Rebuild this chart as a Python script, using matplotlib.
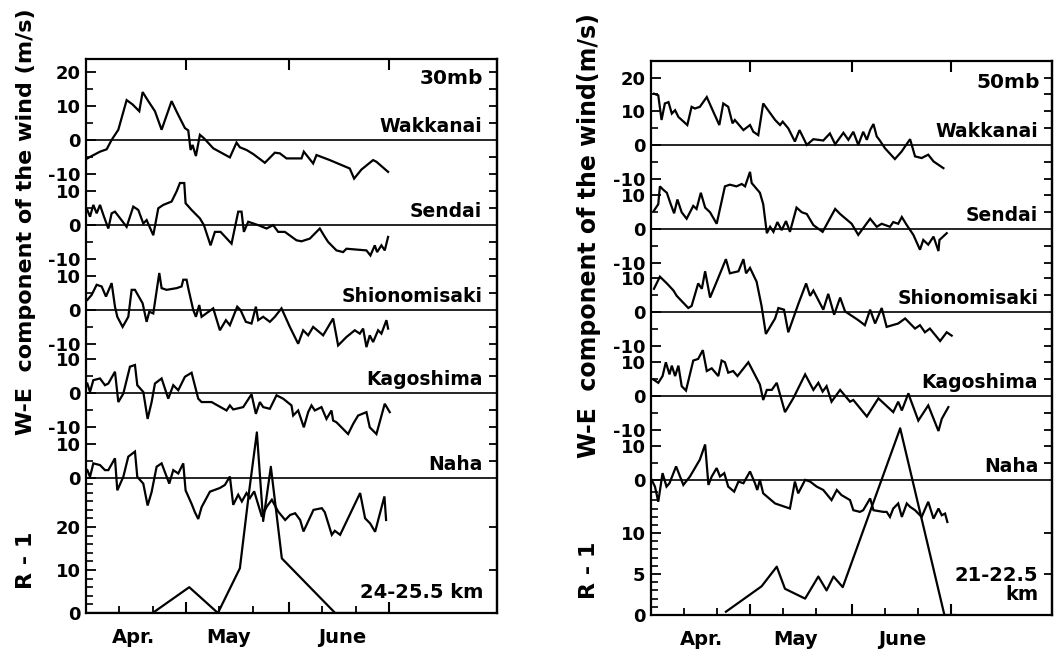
import matplotlib
matplotlib.use("Agg")
import matplotlib.pyplot as plt
import numpy as np

plt.rcParams['font.family'] = ['DejaVu Sans']
plt.rcParams['font.weight'] = 'bold'

# ---------------- DATA ----------------
stations = ["Wakkanai", "Sendai", "Shionomisaki", "Kagoshima", "Naha"]
month_labels = ["Apr.", "May", "June"]
month_label_day_30 = [14.4, 42.9, 76.9]
month_label_day_50 = [15.4, 43.8, 76.1]
wind_tick_labels = [["20", "10", "0", "-10"], ["10", "0", "-10"], ["10", "0", "-10"],
                    ["10", "0", "-10"], ["10", "0"]]
wind_tick_values = [[20, 10, 0, -10], [10, 0, -10], [10, 0, -10], [10, 0, -10], [10, 0]]
r_tick_values_30 = [0, 10, 20]
r_tick_values_50 = [0, 5, 10]

# --- 30 mb (days counted from 1 April) ---
wak30_day = [0.4, 1.7, 4.2, 6.2, 7.7, 9.7, 12.2, 14, 16, 17, 18.7, 20.7, 22.7, 25.7, 27.4, 29.7,
             30.7, 31.4, 32, 33, 34.2, 35.4, 38.2, 43.2, 45.2, 46.2, 48.2, 50.2, 53.7, 56.7,
             58.2, 60.2, 64.7, 65.4, 68.2, 69.2, 73.2, 79.2, 80.5, 82.7, 86.2, 87.2, 90.7]
wak30_u = [-5.5, -4.8, -3.5, -2.8, 0, 3, 11.8, 10.5, 8.5, 14.2, 11.5, 8.5, 3, 11.5, 8, 3.5,
           2.8, -3, -1.5, -4.8, 1.5, 0.5, -2.5, -5.2, -0.8, -2.2, -3, -4.2, -6.8, -3.8,
           -4, -5.5, -5.5, -3.5, -7, -4.5, -6, -8.5, -11.5, -8.8, -6, -6.5, -9.5]

sen30_day = [0.4, 1.2, 2.2, 3.2, 4.2, 5.4, 6.7, 7.7, 8.7, 12.2, 14.2, 15.7, 17.2, 18.2, 20.2,
             21.7, 23.2, 25.7, 27.2, 28.2, 29.5, 29.9, 31.7, 34.2, 35.4, 37.4, 38.7, 40.4,
             43.7, 45.7, 46.7, 47.4, 48.7, 51.7, 54.2, 56.2, 57.7, 59.7, 63.2, 64.7, 67.2,
             70.2, 71.4, 72.7, 75.2, 77.2, 78.2, 84.2, 85.4, 86.7, 87.4, 88.7, 89.7, 90.7]
sen30_u = [4.5, 2.5, 6, 3.5, 6, 2.5, -1, 3.5, 4, -0.5, 5.5, 4.5, 0.5, 1.5, -3,
           5, 6, 7, 10, 12.5, 12.5, 6.5, 4.5, 2, 0, -6, -2, -2,
           -5.5, 4, 4, -2, 1, 0, -1, 0, -2, -2, -4.5, -4.8, -4,
           -1, -3, -5, -7.5, -8, -7, -7.5, -9, -6, -8, -6, -7.5, -3.5]

shi30_day = [0.4, 1.7, 3.2, 4.7, 6, 7.7, 8.7, 9.4, 11, 12.7, 13.7, 14.7, 17, 18.2, 19, 20.2,
             22, 22.7, 24.2, 27.2, 28.7, 29.2, 30.2, 30.7, 32.2, 33, 34, 34.7, 38.2, 40.2,
             42, 43.2, 45.4, 46.4, 48, 49.7, 51, 51.7, 53.2, 55.2, 56.7, 58.7, 61.2, 63.7,
             65.2, 66.7, 68.2, 71.2, 74.2, 75.7, 78.2, 80.7, 82.2, 83.2, 84.2, 85.2, 86.2,
             87.7, 88.7, 90.2, 90.7]
shi30_u = [3, 4.5, 7.5, 7, 4, 8, 1, -2, -5, -2, 6, 6, 2, -3.5, -0.5, -1,
           11, 6.5, 6, 6.5, 7, 9, 9, 6.5, 0, -2, 1.5, -2, 0.5, -6,
           -3, -4.5, 1, 0, -3.5, -4, 1, -3, -2, -3.5, -2, 0.5, -5, -10,
           -6, -7.5, -5, -7.5, -2.5, -10.5, -8, -6, -7, -5.5, -11, -7.5, -9.5,
           -6, -7, -3, -5.5]

kag30_day = [0.4, 1.2, 2.2, 4.2, 5.7, 6.7, 8.7, 9.7, 11.2, 13.2, 14.7, 15.4, 17.2, 18.5, 19.7,
             20.7, 22.7, 24.7, 26.2, 27.7, 29.7, 31.7, 33.7, 34.7, 37.7, 42.2, 43.2, 44.2,
             47.2, 49.7, 51, 52.2, 53.2, 55.2, 57.2, 59.2, 61.7, 62.2, 63.7, 65.4, 66.7,
             67.7, 68.7, 70.7, 72.2, 73.7, 74.2, 75.2, 78.7, 80.2, 81.7, 84.2, 85.2, 87.2,
             89.7, 91.2]
kag30_u = [2.8, 0.3, 3.8, 4.3, 2.3, 2.8, 6.3, -2.7, -0.2, 7.8, 8.3, 2.3, 0.3, -7.7, -2.7,
           2.8, 4.3, -1.7, 2.3, 0.8, 4.8, 6, -1.7, -2.7, -2.7, -5.2, -3.7, -4.9,
           -4.2, -0.4, -6.2, -2.7, -4.2, -4.7, -0.7, -1.7, -3.7, -6.7, -5.2, -10.2, -5.7,
           -3.7, -5.2, -4.2, -7.7, -5.2, -8.2, -8.7, -12.2, -9.2, -6.7, -5.7, -10.2, -12.2,
           -3.2, -5.7]

nah30_day = [0.4, 1.2, 2.2, 4.2, 5.7, 6.7, 8.7, 9.4, 11.2, 12.7, 14.7, 15.4, 17.2, 18.5, 19.7,
             21.2, 22.7, 25, 26.2, 27.7, 29.2, 29.9, 31.7, 32.7, 33.7, 34.7, 37.2, 40.2,
             41.7, 43.2, 44.2, 45.7, 46.8, 48.2, 49.2, 50.5, 52.8, 54.3, 55.8, 57.7, 59.8,
             61.3, 62.8, 64.3, 65.3, 68.3, 70.8, 71.7, 73.8, 74.7, 76.3, 82.3, 83.8, 85.3,
             86.8, 89.6, 90.1]
nah30_u = [2.3, 0.3, 4.3, 3.8, 2.3, 2.3, 5.8, -3.7, 0.3, 6.3, 7.8, 0.3, -1.7, -8.2, -4.2,
           3.3, 4.3, -1.7, 2.3, 1.3, 4.3, -3.7, -7.7, -10.2, -12.2, -8.7, -4.1, -3,
           -2.1, 0.4, -8, -5, -7, -4.5, -6, -4, -11.5, -8.5, -6.5, -10, -12.5,
           -11, -10.5, -12.5, -15.9, -9.5, -9, -10.2, -16.9, -15.7, -16.9, -4.5, -12, -13.5,
           -16, -5.5, -12.5]

r30_day = [0, 20, 31, 39.6, 46.2, 49, 51.3, 53.2, 55.5, 58.8, 74.8, 90.3]
r30_val = [0, 0, 6, 0, 10.4, 28.4, 42, 21.4, 34, 12.7, 0, 0]

# --- 50 mb ---
wak50_day = [0.9, 2.2, 3.2, 4.2, 5.3, 6.3, 7.3, 8.3, 11, 12.3, 13.3, 14.8, 16.9, 18.9, 20.7,
             21.9, 23.4, 24.7, 25.4, 28, 30, 31, 32.5, 34, 35.1, 37.6, 39.1, 39.9, 41.6,
             43.6, 45, 47.2, 49.2, 52.2, 54.2, 55.8, 58.3, 59.8, 61.3, 62.8, 64.3, 65.4,
             66.4, 67.4, 68.4, 69.2, 70.9, 73.9, 75.9, 78.5, 80, 82, 84, 85.6, 88.6]
wak50_u = [15.2, 14.7, 7.4, 12.3, 12.7, 9.3, 10.3, 8.3, 5.9, 11.3, 10.8, 11.3, 14.2, 9.8, 5.9,
           12.3, 11.3, 6.4, 7.4, 4.4, 5.9, 3.9, 2.9, 12.3, 10.8, 7.4, 5.9, 6.9, 4.9,
           1, 4.4, 0, 1.7, 1.3, 3.4, 0.2, 3.6, 1.5, 3.9, 0, 3.9, 1.5,
           4.4, 6.2, 2.5, 1.5, -1, -4.2, -2, 1.7, -3.4, -3.9, -2.9, -4.9, -6.9]

sen50_day = [0.9, 2.2, 2.7, 3.7, 4.8, 5.8, 7, 8, 9.3, 10.8, 12.8, 13.8, 15.1, 16.4, 17.9,
             19.9, 22.4, 23.9, 25.9, 27.5, 28.5, 30, 30.5, 33, 34, 35.1, 36.1, 37.1, 38.3,
             39.6, 40.9, 42.1, 44.1, 45.7, 47.2, 49.2, 52, 55.8, 57.3, 60.8, 62.8, 66.4,
             68.4, 69.9, 72.4, 73.4, 74.9, 76, 77.5, 79.5, 81.5, 82.5, 84, 85.6, 87.1,
             87.4, 89.6]
sen50_u = [5.5, 7.4, 12.7, 11.7, 10.8, 7.9, 4.7, 8.8, 5, 3.1, 6.9, 6, 10.8, 6.4, 5,
           1.6, 12.7, 13.2, 12.7, 13.4, 12.7, 17, 13.7, 10.8, 7.4, -1.2, 0.7, -0.8, 2.1,
           -0.3, 2.4, -0.8, 6.4, 5, 4.5, 1.2, -0.8, 6, 4.5, 1.6, -1.7, 3.1,
           0.7, 1.6, 0.7, 2.1, 1.6, 3.6, 1.2, -1.7, -6.1, -3.2, -4.6, -2.2, -6.5,
           -3.2, -1.2]

shi50_day = [0.9, 2.7, 4.8, 6.8, 7.8, 11.3, 12.3, 14.3, 15.4, 16.4, 17.9, 19.9, 22.7, 23.9,
             26.5, 28, 28.8, 30, 32, 33.5, 34.8, 37.6, 38.6, 40.3, 41.6, 44.6, 47, 48.2,
             49.2, 52.2, 53.7, 55.5, 57.3, 58.8, 62.8, 64.8, 66.4, 67.9, 69.9, 71.4, 74.9,
             77, 80, 81.5, 83, 84.5, 87.6, 89.6, 91.1]
shi50_u = [6.9, 10.5, 8.5, 6.4, 4.8, 1.2, 1.8, 8.5, 6.9, 12.1, 4.3, 9, 15.7, 11.5,
           12.1, 15.7, 11.5, 13.1, 9, 1.8, -6.5, -1.9, 1.2, 0.7, -6, 2.3, 8.5, 4.8,
           6.4, 0.7, 5.4, -0.8, 4.3, 0.2, -2.4, -3.9, 0.7, -3.4, 1.2, -4.4, -3.4,
           -1.9, -4.9, -3.9, -6, -4.9, -8.6, -6, -7]

kag50_day = [0.7, 2.2, 3.5, 4.5, 5.6, 6.3, 7.3, 8.3, 9.3, 10.6, 12.8, 14.3, 15.7, 16.9, 18.4,
             20.4, 21.4, 22.4, 23.4, 24.9, 26.2, 29.5, 33, 34, 35.1, 36.6, 38.1, 40.6,
             43.1, 46.7, 49.2, 50.7, 52, 53.2, 54.7, 57.3, 60.3, 61.3, 65.4, 68.9, 73.4,
             74.9, 76, 78, 78.5, 81, 84, 87.1, 88.1, 90.1]
kag50_u = [4.9, 3.9, 5.9, 10, 6.4, 9, 5.9, 9, 2.9, 1.6, 10.5, 11, 13.6, 7.4, 8.2,
           5.9, 10.5, 10, 6.9, 7.4, 5.9, 10, 3.4, -1.2, 1.8, 1.8, 3.9, -4.8,
           -0.7, 6.4, 1.8, 3.9, 1.3, 2.9, -1.7, 1.8, -1.7, -1.2, -6.1, -0.7, -4.8,
           -1.7, -4.3, 0.8, -0.7, -7.3, -2.8, -10.4, -6.8, -3.3]

nah50_day = [0.2, 1.2, 2.2, 3.5, 4.7, 5.6, 7.6, 9.8, 11.8, 14.8, 16.4, 17.4, 18.4, 19.9, 20.9,
             22.2, 23.4, 25.2, 26.5, 28, 30, 31.5, 32.2, 33, 34, 37.6, 42.1, 43.6, 44.6,
             46.7, 48.2, 50.2, 52.2, 54.7, 56.3, 57.7, 60.3, 61.3, 63.3, 64.3, 66.4, 67.4,
             70.4, 71.4, 72.4, 73.4, 74.9, 76, 77.5, 78.5, 80, 82, 84, 85.6, 87.1, 88.1,
             89.1, 89.8]
nah50_u = [0, -2, -6.5, 2, -2, -1, 4, -1.5, 1, 6, 10.5, -1.5, 1, 3.5, 1,
           2, -2, -3.5, -0.5, -1, 2.5, -1, -3, 0, -4, -7, -8.5, -0.5, -4,
           0, -0.5, -2, -3, -6, -3, -4.5, -6, -9, -9.5, -9, -5.5, -9,
           -9.5, -9.5, -11, -8.5, -7, -11, -7, -8, -9, -11, -6.5, -11.5, -8.5, -10.5,
           -10, -12.5]

r50_day = [22.7, 33.5, 38.1, 40.6, 46.7, 50.7, 53.2, 55.3, 58.1, 75.5, 88.9, 92]
r50_val = [0.4, 3.5, 5.9, 3.2, 2, 4.7, 3, 4.7, 3.4, 22.8, 0, 0]

# ---------------- LAYOUT ----------------
W, H = 1055, 654
fig = plt.figure(figsize=(W / 100, H / 100), dpi=100)

panels = [
    dict(rect=[86 / W, 1 - 613 / H, 411 / W, 554 / H], xmax=123.4, ymax=164.4,
         offsets=[140.4, 115.1, 89.9, 65.3, 40.1], rscale=1.276,
         series=[(wak30_day, wak30_u), (sen30_day, sen30_u), (shi30_day, shi30_u),
                 (kag30_day, kag30_u), (nah30_day, nah30_u)],
         r=(r30_day, r30_val), rticks=r_tick_values_30, rminor=np.arange(0, 31, 2),
         level="30mb", level_xy=(119.2, 158.6), lab_x=119.0,
         km="24-25.5 km", km_xy=(119.2, 6.2), mlab=month_label_day_30,
         ylabel="W-E  component of the wind (m/s)", ylab_x=26, ylab_y=222, ylab_fs=16,
         r_y=560, r_x=26),
    dict(rect=[651 / W, 1 - 615 / H, 401 / W, 554 / H], xmax=121.5, ymax=164.4,
         offsets=[139.5, 114.5, 89.9, 65.0, 40.1], rscale=2.43,
         series=[(wak50_day, wak50_u), (sen50_day, sen50_u), (shi50_day, shi50_u),
                 (kag50_day, kag50_u), (nah50_day, nah50_u)],
         r=(r50_day, r50_val), rticks=r_tick_values_50, rminor=np.arange(0, 16, 1),
         level="50mb", level_xy=(117.9, 158.0), lab_x=117.3,
         km="21-22.5\nkm", km_xy=(117.3, 8.9), mlab=month_label_day_50,
         ylabel="W-E  component of the wind(m/s)", ylab_x=589, ylab_y=236, ylab_fs=17,
         r_y=570, r_x=589),
]

for p in panels:
    ax = fig.add_axes(p["rect"])
    ax.set_xlim(0, p["xmax"])
    ax.set_ylim(0, p["ymax"])
    for s in ax.spines.values():
        s.set_linewidth(1.6)

    offs = p["offsets"]
    for (d, u), off, name in zip(p["series"], offs, stations):
        ax.axhline(off, color="k", lw=1.2, zorder=2)
        ax.plot(d, np.asarray(u) + off, color="k", lw=1.6, zorder=3, solid_joinstyle="miter")
        ax.text(p["lab_x"], off + 1.2, name, ha="right", va="bottom",
                fontsize=13.5, fontweight="bold")
    rd, rv = p["r"]
    ax.plot(rd, np.asarray(rv) * p["rscale"], color="k", lw=1.6, zorder=3)

    # left ticks
    maj_pos, maj_lab = [], []
    for off, vals, labs in zip(offs, wind_tick_values, wind_tick_labels):
        maj_pos += [off + v for v in vals]
        maj_lab += labs
    maj_pos += [r * p["rscale"] for r in p["rticks"]]
    maj_lab += [str(r) for r in p["rticks"]]
    minor_pos = []
    for i, off in enumerate(offs):
        fives = [15, 5, -5] if i == 0 else ([5] if i == 4 else [5, -5])
        minor_pos += [off + v for v in fives]
    minor_pos += [r * p["rscale"] for r in p["rminor"] if r not in p["rticks"]]
    ax.set_yticks(maj_pos)
    ax.set_yticklabels(maj_lab)
    ax.set_yticks(minor_pos, minor=True)
    ax.tick_params(axis="y", which="major", direction="in", length=7, width=1.3,
                   labelsize=13, pad=4)
    ax.tick_params(axis="y", which="minor", direction="in", length=5, width=1.2)
    for t in ax.get_yticklabels():
        t.set_fontweight("bold")

    # right ticks
    sec = ax.secondary_yaxis("right", functions=(lambda y: y, lambda y: y))
    rpos = []
    for i, off in enumerate(offs):
        vals = [20, 15, 10, 5, -5, -10] if i == 0 else ([10, 5] if i == 4 else [10, 5, -5, -10])
        rpos += [off + v for v in vals]
    rpos += [r * p["rscale"] for r in p["rticks"] if r > 0]
    sec.set_yticks(rpos)
    sec.tick_params(direction="in", length=6, width=1.3, labelright=False)
    sec.spines["right"].set_linewidth(1.6)

    # x ticks
    ax.set_xticks([30, 61, 91])
    ax.set_xticks([10, 20, 40, 50, 71, 81], minor=True)
    ax.set_xticklabels([])
    ax.tick_params(axis="x", which="major", direction="in", length=8, width=1.5,
                   top=True, bottom=True)
    ax.tick_params(axis="x", which="minor", direction="in", length=5, width=1.3,
                   top=False, bottom=True)
    for xm, lab in zip(p["mlab"], month_labels):
        ax.text(xm, -0.045, lab, transform=ax.get_xaxis_transform(), ha="center",
                va="center", fontsize=14, fontweight="bold")

    ax.text(p["level_xy"][0], p["level_xy"][1], p["level"], ha="right", va="center",
            fontsize=14.5, fontweight="bold")
    ax.text(p["km_xy"][0], p["km_xy"][1], p["km"], ha="right", va="center",
            fontsize=14, fontweight="bold", multialignment="right", linespacing=1.0)

    fig.text(p["ylab_x"] / W, 1 - p["ylab_y"] / H, p["ylabel"], rotation=90,
             ha="center", va="center", fontsize=p["ylab_fs"], fontweight="bold")
    fig.text(p["r_x"] / W, 1 - p["r_y"] / H, "R - 1", rotation=90,
             ha="center", va="center", fontsize=16, fontweight="bold")

fig.savefig("out.png", dpi=100, facecolor="white")
